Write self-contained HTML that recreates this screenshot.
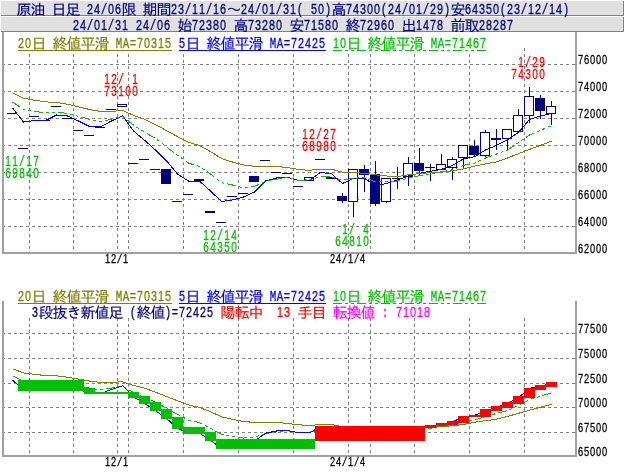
<!DOCTYPE html>
<html lang="ja"><head><meta charset="utf-8"><title>原油 日足</title>
<style>html,body{margin:0;padding:0;background:#fff}svg{display:block}text{stroke-width:0.3px}.j{stroke-width:0.15px}.n{font-family:"Liberation Sans","IPAGothic",sans-serif}</style></head>
<body>
<svg width="624" height="475" viewBox="0 0 624 475" font-family="&quot;Liberation Mono&quot;, &quot;IPAGothic&quot;, monospace">
<rect x="0" y="0" width="624" height="475" fill="#ffffff"/>
<rect x="1" y="1" width="622" height="14" fill="#e0e0e0"/>
<rect x="1" y="17" width="622" height="14" fill="#e0e0e0"/>
<rect x="1" y="15" width="623" height="1" fill="#808080"/>
<rect x="1" y="31" width="623" height="1" fill="#808080"/>
<rect x="623" y="1" width="1" height="15" fill="#808080"/>
<rect x="623" y="17" width="1" height="15" fill="#808080"/>
<g shape-rendering="crispEdges">
<path d="M4 64.5 H575" stroke="#808080" stroke-width="1" stroke-dasharray="3 3" stroke-dashoffset="2" fill="none"/>
<path d="M4 91.5 H575" stroke="#808080" stroke-width="1" stroke-dasharray="3 3" stroke-dashoffset="2" fill="none"/>
<path d="M4 118.5 H575" stroke="#808080" stroke-width="1" stroke-dasharray="3 3" stroke-dashoffset="2" fill="none"/>
<path d="M4 145.5 H575" stroke="#808080" stroke-width="1" stroke-dasharray="3 3" stroke-dashoffset="2" fill="none"/>
<path d="M4 172.5 H575" stroke="#808080" stroke-width="1" stroke-dasharray="3 3" stroke-dashoffset="2" fill="none"/>
<path d="M4 199.5 H575" stroke="#808080" stroke-width="1" stroke-dasharray="3 3" stroke-dashoffset="2" fill="none"/>
<path d="M4 226.5 H575" stroke="#808080" stroke-width="1" stroke-dasharray="3 3" stroke-dashoffset="2" fill="none"/>
<path d="M29.5 48 V252" stroke="#808080" stroke-width="1" stroke-dasharray="3 3" stroke-dashoffset="0" fill="none"/>
<path d="M73.5 48 V252" stroke="#808080" stroke-width="1" stroke-dasharray="3 3" stroke-dashoffset="0" fill="none"/>
<path d="M117.5 48 V252" stroke="#808080" stroke-width="1" stroke-dasharray="3 3" stroke-dashoffset="0" fill="none"/>
<path d="M128.5 48 V252" stroke="#808080" stroke-width="1" stroke-dasharray="3 3" stroke-dashoffset="0" fill="none"/>
<path d="M183.5 48 V252" stroke="#808080" stroke-width="1" stroke-dasharray="3 3" stroke-dashoffset="0" fill="none"/>
<path d="M238.5 48 V252" stroke="#808080" stroke-width="1" stroke-dasharray="3 3" stroke-dashoffset="0" fill="none"/>
<path d="M293.5 48 V252" stroke="#808080" stroke-width="1" stroke-dasharray="3 3" stroke-dashoffset="0" fill="none"/>
<path d="M348.5 48 V252" stroke="#808080" stroke-width="1" stroke-dasharray="3 3" stroke-dashoffset="0" fill="none"/>
<path d="M370.5 48 V252" stroke="#808080" stroke-width="1" stroke-dasharray="3 3" stroke-dashoffset="0" fill="none"/>
<path d="M414.5 48 V252" stroke="#808080" stroke-width="1" stroke-dasharray="3 3" stroke-dashoffset="0" fill="none"/>
<path d="M469.5 48 V252" stroke="#808080" stroke-width="1" stroke-dasharray="3 3" stroke-dashoffset="0" fill="none"/>
<path d="M524.5 48 V252" stroke="#808080" stroke-width="1" stroke-dasharray="3 3" stroke-dashoffset="0" fill="none"/>
<path d="M4 333.5 H575" stroke="#808080" stroke-width="1" stroke-dasharray="3 3" stroke-dashoffset="2" fill="none"/>
<path d="M4 358.5 H575" stroke="#808080" stroke-width="1" stroke-dasharray="3 3" stroke-dashoffset="2" fill="none"/>
<path d="M4 383.5 H575" stroke="#808080" stroke-width="1" stroke-dasharray="3 3" stroke-dashoffset="2" fill="none"/>
<path d="M4 407.5 H575" stroke="#808080" stroke-width="1" stroke-dasharray="3 3" stroke-dashoffset="2" fill="none"/>
<path d="M4 432.5 H575" stroke="#808080" stroke-width="1" stroke-dasharray="3 3" stroke-dashoffset="2" fill="none"/>
<path d="M29.5 317 V455" stroke="#808080" stroke-width="1" stroke-dasharray="3 3" stroke-dashoffset="5" fill="none"/>
<path d="M73.5 317 V455" stroke="#808080" stroke-width="1" stroke-dasharray="3 3" stroke-dashoffset="5" fill="none"/>
<path d="M117.5 317 V455" stroke="#808080" stroke-width="1" stroke-dasharray="3 3" stroke-dashoffset="5" fill="none"/>
<path d="M128.5 317 V455" stroke="#808080" stroke-width="1" stroke-dasharray="3 3" stroke-dashoffset="5" fill="none"/>
<path d="M183.5 317 V455" stroke="#808080" stroke-width="1" stroke-dasharray="3 3" stroke-dashoffset="5" fill="none"/>
<path d="M238.5 317 V455" stroke="#808080" stroke-width="1" stroke-dasharray="3 3" stroke-dashoffset="5" fill="none"/>
<path d="M293.5 317 V455" stroke="#808080" stroke-width="1" stroke-dasharray="3 3" stroke-dashoffset="5" fill="none"/>
<path d="M348.5 317 V455" stroke="#808080" stroke-width="1" stroke-dasharray="3 3" stroke-dashoffset="5" fill="none"/>
<path d="M370.5 317 V455" stroke="#808080" stroke-width="1" stroke-dasharray="3 3" stroke-dashoffset="5" fill="none"/>
<path d="M414.5 317 V455" stroke="#808080" stroke-width="1" stroke-dasharray="3 3" stroke-dashoffset="5" fill="none"/>
<path d="M469.5 317 V455" stroke="#808080" stroke-width="1" stroke-dasharray="3 3" stroke-dashoffset="5" fill="none"/>
<path d="M524.5 317 V455" stroke="#808080" stroke-width="1" stroke-dasharray="3 3" stroke-dashoffset="5" fill="none"/>
<rect x="2" y="32" width="2" height="222" fill="#a0a0a0"/>
<rect x="575" y="32" width="2" height="222" fill="#a0a0a0"/>
<rect x="2" y="252" width="575" height="2" fill="#a0a0a0"/>
<rect x="2" y="301" width="2" height="156" fill="#a0a0a0"/>
<rect x="575" y="301" width="2" height="156" fill="#a0a0a0"/>
<rect x="2" y="455" width="575" height="2" fill="#a0a0a0"/>
</g>
<text class="j" x="24 38" y="14.5" font-size="15" fill="#000080" stroke="#000080" text-anchor="middle">原油</text>
<text class="j" x="59 73" y="14.5" font-size="15" fill="#000080" stroke="#000080" text-anchor="middle">日足</text>
<text transform="scale(0.7200,1)" x="125.00 134.72 144.44 154.17 163.89" y="14" font-size="15" fill="#000080" stroke="#000080" text-anchor="middle"><tspan class="n">24</tspan>/<tspan class="n">06</tspan></text>
<text class="j" x="129" y="14.5" font-size="15" fill="#000080" stroke="#000080" text-anchor="middle">限</text>
<text class="j" x="150 164" y="14.5" font-size="15" fill="#000080" stroke="#000080" text-anchor="middle">期間</text>
<text transform="scale(0.7200,1)" x="241.67 251.39 261.11 270.83 280.56 290.28 300.00 309.72" y="14" font-size="15" fill="#000080" stroke="#000080" text-anchor="middle"><tspan class="n">23</tspan>/<tspan class="n">11</tspan>/<tspan class="n">16</tspan></text>
<text class="j" x="234" y="14.5" font-size="15" fill="#000080" stroke="#000080" text-anchor="middle">～</text>
<text transform="scale(0.7200,1)" x="338.89 348.61 358.33 368.06 377.78 387.50 397.22 406.94 416.67" y="14" font-size="15" fill="#000080" stroke="#000080" text-anchor="middle"><tspan class="n">24</tspan>/<tspan class="n">01</tspan>/<tspan class="n">31</tspan>(</text>
<text transform="scale(0.7200,1)" x="436.11 445.83 455.56" y="14" font-size="15" fill="#000080" stroke="#000080" text-anchor="middle"><tspan class="n">50</tspan>)</text>
<text class="j" x="339" y="14.5" font-size="15" fill="#000080" stroke="#000080" text-anchor="middle">高</text>
<text transform="scale(0.7200,1)" x="484.72 494.44 504.17 513.89 523.61 533.33 543.06 552.78 562.50 572.22 581.94 591.67 601.39 611.11 620.83" y="14" font-size="15" fill="#000080" stroke="#000080" text-anchor="middle"><tspan class="n">74300</tspan>(<tspan class="n">24</tspan>/<tspan class="n">01</tspan>/<tspan class="n">29</tspan>)</text>
<text class="j" x="458" y="14.5" font-size="15" fill="#000080" stroke="#000080" text-anchor="middle">安</text>
<text transform="scale(0.7200,1)" x="650.00 659.72 669.44 679.17 688.89 698.61 708.33 718.06 727.78 737.50 747.22 756.94 766.67 776.39 786.11" y="14" font-size="15" fill="#000080" stroke="#000080" text-anchor="middle"><tspan class="n">64350</tspan>(<tspan class="n">23</tspan>/<tspan class="n">12</tspan>/<tspan class="n">14</tspan>)</text>
<text transform="scale(0.7200,1)" x="105.56 115.28 125.00 134.72 144.44 154.17 163.89 173.61" y="30" font-size="15" fill="#000080" stroke="#000080" text-anchor="middle"><tspan class="n">24</tspan>/<tspan class="n">01</tspan>/<tspan class="n">31</tspan></text>
<text transform="scale(0.7200,1)" x="193.06 202.78 212.50 222.22 231.94" y="30" font-size="15" fill="#000080" stroke="#000080" text-anchor="middle"><tspan class="n">24</tspan>/<tspan class="n">06</tspan></text>
<text class="j" x="185" y="30.5" font-size="15" fill="#000080" stroke="#000080" text-anchor="middle">始</text>
<text transform="scale(0.7200,1)" x="270.83 280.56 290.28 300.00 309.72" y="30" font-size="15" fill="#000080" stroke="#000080" text-anchor="middle" class="n">72380</text>
<text class="j" x="241" y="30.5" font-size="15" fill="#000080" stroke="#000080" text-anchor="middle">高</text>
<text transform="scale(0.7200,1)" x="348.61 358.33 368.06 377.78 387.50" y="30" font-size="15" fill="#000080" stroke="#000080" text-anchor="middle" class="n">73280</text>
<text class="j" x="297" y="30.5" font-size="15" fill="#000080" stroke="#000080" text-anchor="middle">安</text>
<text transform="scale(0.7200,1)" x="426.39 436.11 445.83 455.56 465.28" y="30" font-size="15" fill="#000080" stroke="#000080" text-anchor="middle" class="n">71580</text>
<text class="j" x="353" y="30.5" font-size="15" fill="#000080" stroke="#000080" text-anchor="middle">終</text>
<text transform="scale(0.7200,1)" x="504.17 513.89 523.61 533.33 543.06" y="30" font-size="15" fill="#000080" stroke="#000080" text-anchor="middle" class="n">72960</text>
<text class="j" x="409" y="30.5" font-size="15" fill="#000080" stroke="#000080" text-anchor="middle">出</text>
<text transform="scale(0.7200,1)" x="581.94 591.67 601.39 611.11" y="30" font-size="15" fill="#000080" stroke="#000080" text-anchor="middle" class="n">1478</text>
<text class="j" x="458 472" y="30.5" font-size="15" fill="#000080" stroke="#000080" text-anchor="middle">前取</text>
<text transform="scale(0.7200,1)" x="669.44 679.17 688.89 698.61 708.33" y="30" font-size="15" fill="#000080" stroke="#000080" text-anchor="middle" class="n">28287</text>
<rect x="17" y="36" width="472" height="15" fill="#ffffff"/>
<text transform="scale(0.7200,1)" x="29.17 38.89" y="48" font-size="15" fill="#808000" stroke="#808000" text-anchor="middle" class="n">20</text>
<text class="j" x="39" y="48.5" font-size="15" fill="#808000" stroke="#808000" text-anchor="middle">日</text>
<text class="j" x="60 74 88 102" y="48.5" font-size="15" fill="#808000" stroke="#808000" text-anchor="middle">終値平滑</text>
<text transform="scale(0.7200,1)" x="165.28 175.00 184.72 194.44 204.17 213.89 223.61 233.33" y="48" font-size="15" fill="#808000" stroke="#808000" text-anchor="middle">MA=<tspan class="n">70315</tspan></text>
<rect x="18" y="50" width="154" height="1" fill="#808000" shape-rendering="crispEdges"/>
<text transform="scale(0.7200,1)" x="252.78" y="48" font-size="15" fill="#0000ff" stroke="#0000ff" text-anchor="middle" class="n">5</text>
<text class="j" x="193" y="48.5" font-size="15" fill="#0000ff" stroke="#0000ff" text-anchor="middle">日</text>
<text class="j" x="214 228 242 256" y="48.5" font-size="15" fill="#0000ff" stroke="#0000ff" text-anchor="middle">終値平滑</text>
<text transform="scale(0.7200,1)" x="379.17 388.89 398.61 408.33 418.06 427.78 437.50 447.22" y="48" font-size="15" fill="#0000ff" stroke="#0000ff" text-anchor="middle">MA=<tspan class="n">72425</tspan></text>
<rect x="179" y="50" width="147" height="1" fill="#0000ff" shape-rendering="crispEdges"/>
<text transform="scale(0.7200,1)" x="466.67 476.39" y="48" font-size="15" fill="#00c000" stroke="#00c000" text-anchor="middle" class="n">10</text>
<text class="j" x="354" y="48.5" font-size="15" fill="#00c000" stroke="#00c000" text-anchor="middle">日</text>
<text class="j" x="375 389 403 417" y="48.5" font-size="15" fill="#00c000" stroke="#00c000" text-anchor="middle">終値平滑</text>
<text transform="scale(0.7200,1)" x="602.78 612.50 622.22 631.94 641.67 651.39 661.11 670.83" y="48" font-size="15" fill="#00c000" stroke="#00c000" text-anchor="middle">MA=<tspan class="n">71467</tspan></text>
<path d="M333 50.5 H487" stroke="#00c000" stroke-width="1" stroke-dasharray="9 3 3 3 3 3" fill="none" shape-rendering="crispEdges"/>
<rect x="17" y="289" width="472" height="15" fill="#ffffff"/>
<text transform="scale(0.7200,1)" x="29.17 38.89" y="301" font-size="15" fill="#808000" stroke="#808000" text-anchor="middle" class="n">20</text>
<text class="j" x="39" y="301.5" font-size="15" fill="#808000" stroke="#808000" text-anchor="middle">日</text>
<text class="j" x="60 74 88 102" y="301.5" font-size="15" fill="#808000" stroke="#808000" text-anchor="middle">終値平滑</text>
<text transform="scale(0.7200,1)" x="165.28 175.00 184.72 194.44 204.17 213.89 223.61 233.33" y="301" font-size="15" fill="#808000" stroke="#808000" text-anchor="middle">MA=<tspan class="n">70315</tspan></text>
<rect x="18" y="303" width="154" height="1" fill="#808000" shape-rendering="crispEdges"/>
<text transform="scale(0.7200,1)" x="252.78" y="301" font-size="15" fill="#0000ff" stroke="#0000ff" text-anchor="middle" class="n">5</text>
<text class="j" x="193" y="301.5" font-size="15" fill="#0000ff" stroke="#0000ff" text-anchor="middle">日</text>
<text class="j" x="214 228 242 256" y="301.5" font-size="15" fill="#0000ff" stroke="#0000ff" text-anchor="middle">終値平滑</text>
<text transform="scale(0.7200,1)" x="379.17 388.89 398.61 408.33 418.06 427.78 437.50 447.22" y="301" font-size="15" fill="#0000ff" stroke="#0000ff" text-anchor="middle">MA=<tspan class="n">72425</tspan></text>
<rect x="179" y="303" width="147" height="1" fill="#0000ff" shape-rendering="crispEdges"/>
<text transform="scale(0.7200,1)" x="466.67 476.39" y="301" font-size="15" fill="#00c000" stroke="#00c000" text-anchor="middle" class="n">10</text>
<text class="j" x="354" y="301.5" font-size="15" fill="#00c000" stroke="#00c000" text-anchor="middle">日</text>
<text class="j" x="375 389 403 417" y="301.5" font-size="15" fill="#00c000" stroke="#00c000" text-anchor="middle">終値平滑</text>
<text transform="scale(0.7200,1)" x="602.78 612.50 622.22 631.94 641.67 651.39 661.11 670.83" y="301" font-size="15" fill="#00c000" stroke="#00c000" text-anchor="middle">MA=<tspan class="n">71467</tspan></text>
<path d="M333 303.5 H487" stroke="#00c000" stroke-width="1" stroke-dasharray="9 3 3 3 3 3" fill="none" shape-rendering="crispEdges"/>
<rect x="31" y="304" width="402" height="14" fill="#ffffff"/>
<text transform="scale(0.7200,1)" x="48.61" y="317" font-size="15" fill="#000080" stroke="#000080" text-anchor="middle" class="n">3</text>
<text class="j" x="46 60 74 88 102 116" y="317.5" font-size="15" fill="#000080" stroke="#000080" text-anchor="middle">段抜き新値足</text>
<text transform="scale(0.7200,1)" x="184.72" y="317" font-size="15" fill="#000080" stroke="#000080" text-anchor="middle">(</text>
<text class="j" x="144 158" y="317.5" font-size="15" fill="#000080" stroke="#000080" text-anchor="middle">終値</text>
<text transform="scale(0.7200,1)" x="233.33 243.06 252.78 262.50 272.22 281.94 291.67" y="317" font-size="15" fill="#000080" stroke="#000080" text-anchor="middle">)=<tspan class="n">72425</tspan></text>
<text class="j" x="228 242 256" y="317.5" font-size="15" fill="#ff0000" stroke="#ff0000" text-anchor="middle">陽転中</text>
<text transform="scale(0.7200,1)" x="388.89 398.61" y="317" font-size="15" fill="#ff0000" stroke="#ff0000" text-anchor="middle" class="n">13</text>
<text class="j" x="305 319" y="317.5" font-size="15" fill="#ff0000" stroke="#ff0000" text-anchor="middle">手目</text>
<text class="j" x="340 354 368" y="317.5" font-size="15" fill="#ff00ff" stroke="#ff00ff" text-anchor="middle">転換値</text>
<text transform="scale(0.7200,1)" x="534.72" y="317" font-size="15" fill="#ff00ff" stroke="#ff00ff" text-anchor="middle">:</text>
<text transform="scale(0.7200,1)" x="554.17 563.89 573.61 583.33 593.06" y="317" font-size="15" fill="#ff00ff" stroke="#ff00ff" text-anchor="middle" class="n">71018</text>
<text transform="scale(0.7200,1)" x="806.25 814.58 822.92 831.25 839.58" y="64" font-size="12.9" fill="#000000" stroke="#000000" text-anchor="middle" class="n">76000</text>
<text transform="scale(0.7200,1)" x="806.25 814.58 822.92 831.25 839.58" y="91" font-size="12.9" fill="#000000" stroke="#000000" text-anchor="middle" class="n">74000</text>
<text transform="scale(0.7200,1)" x="806.25 814.58 822.92 831.25 839.58" y="118" font-size="12.9" fill="#000000" stroke="#000000" text-anchor="middle" class="n">72000</text>
<text transform="scale(0.7200,1)" x="806.25 814.58 822.92 831.25 839.58" y="145" font-size="12.9" fill="#000000" stroke="#000000" text-anchor="middle" class="n">70000</text>
<text transform="scale(0.7200,1)" x="806.25 814.58 822.92 831.25 839.58" y="172" font-size="12.9" fill="#000000" stroke="#000000" text-anchor="middle" class="n">68000</text>
<text transform="scale(0.7200,1)" x="806.25 814.58 822.92 831.25 839.58" y="199" font-size="12.9" fill="#000000" stroke="#000000" text-anchor="middle" class="n">66000</text>
<text transform="scale(0.7200,1)" x="806.25 814.58 822.92 831.25 839.58" y="226" font-size="12.9" fill="#000000" stroke="#000000" text-anchor="middle" class="n">64000</text>
<text transform="scale(0.7200,1)" x="806.25 814.58 822.92 831.25 839.58" y="253" font-size="12.9" fill="#000000" stroke="#000000" text-anchor="middle" class="n">62000</text>
<text transform="scale(0.7200,1)" x="806.25 814.58 822.92 831.25 839.58" y="333" font-size="12.9" fill="#000000" stroke="#000000" text-anchor="middle" class="n">77500</text>
<text transform="scale(0.7200,1)" x="806.25 814.58 822.92 831.25 839.58" y="358" font-size="12.9" fill="#000000" stroke="#000000" text-anchor="middle" class="n">75000</text>
<text transform="scale(0.7200,1)" x="806.25 814.58 822.92 831.25 839.58" y="383" font-size="12.9" fill="#000000" stroke="#000000" text-anchor="middle" class="n">72500</text>
<text transform="scale(0.7200,1)" x="806.25 814.58 822.92 831.25 839.58" y="407" font-size="12.9" fill="#000000" stroke="#000000" text-anchor="middle" class="n">70000</text>
<text transform="scale(0.7200,1)" x="806.25 814.58 822.92 831.25 839.58" y="432" font-size="12.9" fill="#000000" stroke="#000000" text-anchor="middle" class="n">67500</text>
<text transform="scale(0.7200,1)" x="806.25 814.58 822.92 831.25 839.58" y="456" font-size="12.9" fill="#000000" stroke="#000000" text-anchor="middle" class="n">65000</text>
<text transform="scale(0.7200,1)" x="149.31 157.64 165.97 174.31" y="263" font-size="12.9" fill="#000000" stroke="#000000" text-anchor="middle"><tspan class="n">12</tspan>/<tspan class="n">1</tspan></text>
<text transform="scale(0.7200,1)" x="461.81 470.14 478.47 486.81 495.14 503.47" y="263" font-size="12.9" fill="#000000" stroke="#000000" text-anchor="middle"><tspan class="n">24</tspan>/<tspan class="n">1</tspan>/<tspan class="n">4</tspan></text>
<text transform="scale(0.7200,1)" x="149.31 157.64 165.97 174.31" y="466" font-size="12.9" fill="#000000" stroke="#000000" text-anchor="middle"><tspan class="n">12</tspan>/<tspan class="n">1</tspan></text>
<text transform="scale(0.7200,1)" x="461.81 470.14 478.47 486.81 495.14 503.47" y="466" font-size="12.9" fill="#000000" stroke="#000000" text-anchor="middle"><tspan class="n">24</tspan>/<tspan class="n">1</tspan>/<tspan class="n">4</tspan></text>
<polyline points="12.5,368.7 23.5,372.9 34.5,374.3 45.5,375.6 56.5,375.8 67.5,377.2 78.5,379.1 89.5,381.1 100.5,382.5 111.5,382.5 122.5,381.7 133.5,385.4 144.5,388.2 155.5,392.2 166.5,396.5 177.5,400.8 188.5,404.9 199.5,407.4 210.5,411.7 221.5,416.8 232.5,419.4 243.5,421.4 254.5,422.5 265.5,422.5 276.5,422.5 287.5,423.4 298.5,424.8 309.5,425.4 320.5,424.6 331.5,424.6 342.5,426.7 353.5,427.0 364.5,427.6 375.5,428.7 386.5,429.6 397.5,429.9 408.5,428.7 419.5,427.8 430.5,427.1 441.5,426.5 452.5,425.8 463.5,424.4 474.5,422.3 485.5,420.7 496.5,419.2 507.5,416.4 518.5,413.3 529.5,410.2 540.5,407.3 551.5,404.2" fill="none" shape-rendering="crispEdges" stroke="#808000" stroke-width="1"/>
<polyline points="12.5,375.6 23.5,381.1 34.5,382.3 45.5,383.6 56.5,383.2 67.5,383.8 78.5,386.0 89.5,388.2 100.5,390.0 111.5,388.1 122.5,386.1 133.5,392.4 144.5,397.5 155.5,402.2 166.5,408.2 177.5,414.4 188.5,420.1 199.5,422.7 210.5,428.1 221.5,434.4 232.5,436.1 243.5,438.1 254.5,437.0 265.5,433.5 276.5,431.9 287.5,430.7 298.5,432.8 309.5,432.2 320.5,430.0 331.5,430.3 342.5,432.7 353.5,431.1 364.5,430.7 375.5,433.8 386.5,433.6 397.5,433.2 408.5,431.0 419.5,429.4 430.5,428.3 441.5,426.6 452.5,425.0 463.5,421.7 474.5,420.2 485.5,416.4 496.5,413.5 507.5,410.6 518.5,405.1 529.5,399.6 540.5,396.1 551.5,392.9" fill="none" shape-rendering="crispEdges" stroke="#00c000" stroke-width="1" stroke-dasharray="9 3 3 3 3 3"/>
<polyline points="12.5,380.0 23.5,390.2 34.5,389.1 45.5,389.1 56.5,385.1 67.5,385.8 78.5,389.4 89.5,393.5 100.5,393.7 111.5,389.4 122.5,385.7 133.5,396.7 144.5,403.4 155.5,410.7 166.5,418.5 177.5,428.1 188.5,433.2 199.5,433.2 210.5,440.5 221.5,448.1 232.5,447.0 243.5,444.8 254.5,441.2 265.5,433.2 276.5,431.0 287.5,430.5 298.5,432.7 309.5,432.7 320.5,426.9 331.5,427.9 342.5,435.0 353.5,431.2 364.5,431.2 375.5,436.5 386.5,435.0 397.5,432.4 408.5,429.5 419.5,427.5 430.5,426.1 441.5,424.7 452.5,421.7 463.5,417.0 474.5,415.5 485.5,410.6 496.5,407.2 507.5,403.1 518.5,397.7 529.5,388.3 540.5,385.8 551.5,384.0" fill="none" shape-rendering="crispEdges" stroke="#0000ff" stroke-width="1"/>
<g shape-rendering="crispEdges">
<rect x="18" y="380" width="66" height="11" fill="#00c000"/>
<rect x="84" y="388" width="11" height="6" fill="#00c000"/>
<rect x="95" y="392" width="33" height="2" fill="#00c000"/>
<rect x="128" y="392" width="11" height="6" fill="#00c000"/>
<rect x="139" y="396" width="11" height="8" fill="#00c000"/>
<rect x="150" y="402" width="11" height="9" fill="#00c000"/>
<rect x="161" y="409" width="11" height="10" fill="#00c000"/>
<rect x="172" y="417" width="11" height="12" fill="#00c000"/>
<rect x="183" y="427" width="22" height="7" fill="#00c000"/>
<rect x="205" y="432" width="11" height="9" fill="#00c000"/>
<rect x="216" y="439" width="99" height="10" fill="#00c000"/>
<rect x="315" y="426" width="110" height="15" fill="#ff0000"/>
<rect x="425" y="425" width="11" height="3" fill="#ff0000"/>
<rect x="436" y="423" width="11" height="3" fill="#ff0000"/>
<rect x="447" y="421" width="11" height="4" fill="#ff0000"/>
<rect x="458" y="416" width="11" height="7" fill="#ff0000"/>
<rect x="469" y="415" width="11" height="2" fill="#ff0000"/>
<rect x="480" y="409" width="11" height="8" fill="#ff0000"/>
<rect x="491" y="406" width="11" height="5" fill="#ff0000"/>
<rect x="502" y="402" width="11" height="6" fill="#ff0000"/>
<rect x="513" y="396" width="11" height="8" fill="#ff0000"/>
<rect x="524" y="388" width="11" height="10" fill="#ff0000"/>
<rect x="535" y="385" width="11" height="5" fill="#ff0000"/>
<rect x="546" y="382" width="11" height="5" fill="#ff0000"/>
</g>
<g shape-rendering="crispEdges">
<rect x="7" y="113" width="10" height="1" fill="#000080"/>
<rect x="18" y="148" width="10" height="1" fill="#000080"/>
<rect x="29" y="116" width="10" height="1" fill="#000080"/>
<rect x="40" y="120" width="10" height="1" fill="#000080"/>
<rect x="51" y="106" width="10" height="1" fill="#000080"/>
<rect x="62" y="118" width="10" height="1" fill="#000080"/>
<rect x="73" y="130" width="10" height="1" fill="#000080"/>
<rect x="84" y="135" width="10" height="1" fill="#000080"/>
<rect x="95" y="127" width="10" height="1" fill="#000080"/>
<rect x="106" y="109" width="10" height="1" fill="#000080"/>
<rect x="117" y="104" width="10" height="3" fill="#ffffff"/>
<rect x="117.5" y="104.5" width="9" height="2" fill="none" stroke="#000080" stroke-width="1"/>
<rect x="128" y="163" width="10" height="1" fill="#000080"/>
<rect x="139" y="159" width="10" height="1" fill="#000080"/>
<rect x="150" y="169" width="10" height="1" fill="#000080"/>
<rect x="161" y="169" width="10" height="15" fill="#000080"/>
<rect x="172" y="201" width="10" height="1" fill="#000080"/>
<rect x="183" y="194" width="10" height="1" fill="#000080"/>
<rect x="194" y="179" width="10" height="2" fill="#000080"/>
<rect x="205" y="211" width="10" height="2" fill="#000080"/>
<rect x="216" y="222" width="10" height="1" fill="#000080"/>
<rect x="227" y="196" width="10" height="1" fill="#000080"/>
<rect x="238" y="193" width="10" height="1" fill="#000080"/>
<rect x="249" y="176" width="10" height="6" fill="#000080"/>
<rect x="260" y="160" width="10" height="1" fill="#000080"/>
<rect x="271" y="172" width="10" height="1" fill="#000080"/>
<rect x="282" y="173" width="10" height="1" fill="#000080"/>
<rect x="293" y="186" width="10" height="1" fill="#000080"/>
<rect x="304" y="177" width="10" height="4" fill="#ffffff"/>
<rect x="304.5" y="177.5" width="9" height="3" fill="none" stroke="#000080" stroke-width="1"/>
<rect x="315" y="159" width="10" height="1" fill="#000080"/>
<rect x="326" y="177" width="10" height="2" fill="#000080"/>
<rect x="342" y="193" width="1" height="10" fill="#000080"/>
<rect x="337" y="196" width="10" height="5" fill="#000080"/>
<rect x="353" y="169" width="1" height="48" fill="#000080"/>
<rect x="348" y="169" width="10" height="33" fill="#ffffff"/>
<rect x="348.5" y="169.5" width="9" height="32" fill="none" stroke="#000080" stroke-width="1"/>
<rect x="364" y="165" width="1" height="27" fill="#000080"/>
<rect x="359" y="169" width="10" height="6" fill="#000080"/>
<rect x="375" y="161" width="1" height="45" fill="#000080"/>
<rect x="370" y="174" width="10" height="30" fill="#000080"/>
<rect x="386" y="178" width="1" height="25" fill="#000080"/>
<rect x="381" y="178" width="10" height="24" fill="#ffffff"/>
<rect x="381.5" y="178.5" width="9" height="23" fill="none" stroke="#000080" stroke-width="1"/>
<rect x="397" y="167" width="1" height="22" fill="#000080"/>
<rect x="392" y="178" width="10" height="1" fill="#000080"/>
<rect x="408" y="157" width="1" height="29" fill="#000080"/>
<rect x="403" y="163" width="10" height="14" fill="#ffffff"/>
<rect x="403.5" y="163.5" width="9" height="13" fill="none" stroke="#000080" stroke-width="1"/>
<rect x="419" y="148" width="1" height="28" fill="#000080"/>
<rect x="414" y="163" width="10" height="8" fill="#000080"/>
<rect x="430" y="164" width="1" height="17" fill="#000080"/>
<rect x="425" y="167" width="10" height="1" fill="#000080"/>
<rect x="441" y="154" width="1" height="16" fill="#000080"/>
<rect x="436" y="164" width="10" height="6" fill="#ffffff"/>
<rect x="436.5" y="164.5" width="9" height="5" fill="none" stroke="#000080" stroke-width="1"/>
<rect x="452" y="157" width="1" height="23" fill="#000080"/>
<rect x="447" y="159" width="10" height="9" fill="#ffffff"/>
<rect x="447.5" y="159.5" width="9" height="8" fill="none" stroke="#000080" stroke-width="1"/>
<rect x="463" y="145" width="1" height="23" fill="#000080"/>
<rect x="458" y="145" width="10" height="13" fill="#ffffff"/>
<rect x="458.5" y="145.5" width="9" height="12" fill="none" stroke="#000080" stroke-width="1"/>
<rect x="474" y="140" width="1" height="17" fill="#000080"/>
<rect x="469" y="146" width="10" height="9" fill="#000080"/>
<rect x="485" y="130" width="1" height="29" fill="#000080"/>
<rect x="480" y="132" width="10" height="24" fill="#ffffff"/>
<rect x="480.5" y="132.5" width="9" height="23" fill="none" stroke="#000080" stroke-width="1"/>
<rect x="496" y="129" width="1" height="21" fill="#000080"/>
<rect x="491" y="138" width="10" height="2" fill="#000080"/>
<rect x="507" y="129" width="1" height="21" fill="#000080"/>
<rect x="502" y="129" width="10" height="10" fill="#ffffff"/>
<rect x="502.5" y="129.5" width="9" height="9" fill="none" stroke="#000080" stroke-width="1"/>
<rect x="518" y="109" width="1" height="23" fill="#000080"/>
<rect x="513" y="115" width="10" height="17" fill="#ffffff"/>
<rect x="513.5" y="115.5" width="9" height="16" fill="none" stroke="#000080" stroke-width="1"/>
<rect x="529" y="87" width="1" height="36" fill="#000080"/>
<rect x="524" y="96" width="10" height="20" fill="#ffffff"/>
<rect x="524.5" y="96.5" width="9" height="19" fill="none" stroke="#000080" stroke-width="1"/>
<rect x="540" y="95" width="1" height="24" fill="#000080"/>
<rect x="535" y="98" width="10" height="13" fill="#000080"/>
<rect x="551" y="101" width="1" height="24" fill="#000080"/>
<rect x="546" y="106" width="10" height="8" fill="#ffffff"/>
<rect x="546.5" y="106.5" width="9" height="7" fill="none" stroke="#000080" stroke-width="1"/>
</g>
<polyline points="12.5,108.0 23.5,122.0 34.5,120.5 45.5,120.5 56.5,115.0 67.5,116.0 78.5,121.0 89.5,126.5 100.5,126.8 111.5,121.0 122.5,115.8 133.5,131.0 144.5,140.2 155.5,150.1 166.5,160.8 177.5,174.0 188.5,181.0 199.5,181.0 210.5,191.0 221.5,201.5 232.5,200.0 243.5,197.0 254.5,192.0 265.5,181.0 276.5,178.0 287.5,177.3 298.5,180.3 309.5,180.4 320.5,172.4 331.5,173.8 342.5,183.5 353.5,178.3 364.5,178.3 375.5,185.5 386.5,183.5 397.5,180.0 408.5,176.0 419.5,173.2 430.5,171.3 441.5,169.4 452.5,165.3 463.5,158.8 474.5,156.8 485.5,150.0 496.5,145.4 507.5,139.7 518.5,132.3 529.5,119.5 540.5,116.0 551.5,113.5" fill="none" shape-rendering="crispEdges" stroke="#0000ff" stroke-width="1"/>
<polyline points="12.5,102.0 23.5,109.5 34.5,111.2 45.5,113.0 56.5,112.4 67.5,113.3 78.5,116.3 89.5,119.3 100.5,121.7 111.5,119.1 122.5,116.4 133.5,125.0 144.5,132.0 155.5,138.5 166.5,146.8 177.5,155.3 188.5,163.0 199.5,166.6 210.5,174.0 221.5,182.7 232.5,185.0 243.5,187.8 254.5,186.3 265.5,181.4 276.5,179.2 287.5,177.6 298.5,180.5 309.5,179.7 320.5,176.7 331.5,177.0 342.5,180.4 353.5,178.2 364.5,177.6 375.5,181.8 386.5,181.6 397.5,181.0 408.5,178.0 419.5,175.8 430.5,174.3 441.5,172.0 452.5,169.8 463.5,165.3 474.5,163.2 485.5,158.0 496.5,154.0 507.5,150.0 518.5,142.5 529.5,135.0 540.5,130.2 551.5,125.7" fill="none" shape-rendering="crispEdges" stroke="#00c000" stroke-width="1" stroke-dasharray="9 3 3 3 3 3"/>
<polyline points="12.5,92.6 23.5,98.3 34.5,100.2 45.5,101.9 56.5,102.3 67.5,104.3 78.5,106.8 89.5,109.5 100.5,111.4 111.5,111.5 122.5,110.4 133.5,115.4 144.5,119.2 155.5,124.7 166.5,130.6 177.5,136.6 188.5,142.2 199.5,145.6 210.5,151.5 221.5,158.5 232.5,162.0 243.5,164.9 254.5,166.4 265.5,166.4 276.5,166.4 287.5,167.6 298.5,169.5 309.5,170.3 320.5,169.2 331.5,169.2 342.5,172.1 353.5,172.6 364.5,173.3 375.5,174.8 386.5,176.0 397.5,176.5 408.5,174.8 419.5,173.7 430.5,172.7 441.5,171.9 452.5,170.9 463.5,168.9 474.5,166.1 485.5,163.9 496.5,161.9 507.5,158.0 518.5,153.7 529.5,149.4 540.5,145.4 551.5,141.2" fill="none" shape-rendering="crispEdges" stroke="#808000" stroke-width="1"/>
<text transform="scale(0.7200,1)" x="148.61 158.33 168.06" y="84" font-size="13.9" fill="#ff0000" stroke="#ff0000" text-anchor="middle"><tspan class="n">12</tspan>/</text>
<text transform="scale(0.7200,1)" x="187.50" y="84" font-size="13.9" fill="#ff0000" stroke="#ff0000" text-anchor="middle" class="n">1</text>
<text transform="scale(0.7200,1)" x="148.61 158.33 168.06 177.78 187.50" y="96" font-size="13.9" fill="#ff0000" stroke="#ff0000" text-anchor="middle" class="n">73100</text>
<text transform="scale(0.7200,1)" x="11.11 20.83 30.56 40.28 50.00" y="166" font-size="13.9" fill="#00c000" stroke="#00c000" text-anchor="middle"><tspan class="n">11</tspan>/<tspan class="n">17</tspan></text>
<text transform="scale(0.7200,1)" x="11.11 20.83 30.56 40.28 50.00" y="178" font-size="13.9" fill="#00c000" stroke="#00c000" text-anchor="middle" class="n">69840</text>
<text transform="scale(0.7200,1)" x="286.11 295.83 305.56 315.28 325.00" y="240" font-size="13.9" fill="#00c000" stroke="#00c000" text-anchor="middle"><tspan class="n">12</tspan>/<tspan class="n">14</tspan></text>
<text transform="scale(0.7200,1)" x="286.11 295.83 305.56 315.28 325.00" y="252" font-size="13.9" fill="#00c000" stroke="#00c000" text-anchor="middle" class="n">64350</text>
<text transform="scale(0.7200,1)" x="423.61 433.33 443.06 452.78 462.50" y="139" font-size="13.9" fill="#ff0000" stroke="#ff0000" text-anchor="middle"><tspan class="n">12</tspan>/<tspan class="n">27</tspan></text>
<text transform="scale(0.7200,1)" x="423.61 433.33 443.06 452.78 462.50" y="151" font-size="13.9" fill="#ff0000" stroke="#ff0000" text-anchor="middle" class="n">68980</text>
<text transform="scale(0.7200,1)" x="479.17 488.89" y="234" font-size="13.9" fill="#00c000" stroke="#00c000" text-anchor="middle"><tspan class="n">1</tspan>/</text>
<text transform="scale(0.7200,1)" x="508.33" y="234" font-size="13.9" fill="#00c000" stroke="#00c000" text-anchor="middle" class="n">4</text>
<text transform="scale(0.7200,1)" x="469.44 479.17 488.89 498.61 508.33" y="246" font-size="13.9" fill="#00c000" stroke="#00c000" text-anchor="middle" class="n">64810</text>
<text transform="scale(0.7200,1)" x="723.61 733.33 743.06 752.78" y="67" font-size="13.9" fill="#ff0000" stroke="#ff0000" text-anchor="middle"><tspan class="n">1</tspan>/<tspan class="n">29</tspan></text>
<text transform="scale(0.7200,1)" x="713.89 723.61 733.33 743.06 752.78" y="79" font-size="13.9" fill="#ff0000" stroke="#ff0000" text-anchor="middle" class="n">74300</text>
</svg>
</body></html>
